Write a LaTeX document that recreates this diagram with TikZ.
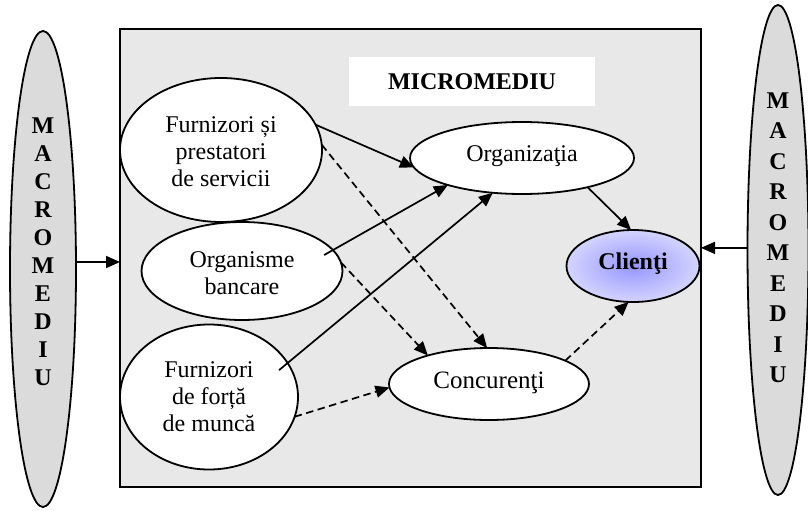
\documentclass[tikz,border=0pt]{standalone}
\usepackage{fontspec}
\setmainfont{Liberation Serif}
\usetikzlibrary{shapes.geometric,arrows.meta,calc}
\begin{document}
\begin{tikzpicture}[x=1pt,y=-1pt,
  every node/.style={outer sep=0pt,inner sep=0pt},
  txt/.style={font=\fontsize{24}{27}\selectfont,align=center},
  oval/.style={ellipse,draw=black,line width=1.8pt,fill=white},
  macro/.style={ellipse,draw=black,line width=1.8pt,fill=gray!28},
  macroL/.style={font=\bfseries\fontsize{24}{28}\selectfont,align=center},
  macroR/.style={font=\bfseries\fontsize{24}{30.5}\selectfont,align=center},
  arr/.style={line width=1.7pt,-{Triangle[length=14pt,width=12pt]}},
  darr/.style={arr,dash pattern=on 7.5pt off 4.5pt}]
\useasboundingbox (0,0) rectangle (808,511);
% main box
\node[draw=black,line width=1.8pt,fill=gray!18,minimum width=581pt,minimum height=458pt] (box) at (410.5,258) {};
\node[fill=white,minimum width=246pt,minimum height=49pt,font=\bfseries\fontsize{24}{25}\selectfont] (micro) at (472,81.5) {MICROMEDIU};
% macro ellipses
\node[macro,minimum width=66pt,minimum height=476pt] (macL) at (43,269) {};
\node[macroL] (macLt) at (43,252) {M\\A\\C\\R\\O\\M\\E\\D\\I\\U};
\node[macro,minimum width=61pt,minimum height=490pt] (macR) at (778,250) {};
\node[macroR] (macRt) at (778,237.5) {M\\A\\C\\R\\O\\M\\E\\D\\I\\U};
% inner ellipses
\node[oval,minimum width=202pt,minimum height=144pt] (f1) at (221,150) {};
\node[txt] (f1t) at (221,152) {Furnizori și\\prestatori\\de servicii};
\node[oval,minimum width=201pt,minimum height=98pt] (ob) at (242,271) {};
\node[txt] (obt) at (242,273) {Organisme\\bancare};
\node[oval,minimum width=178pt,minimum height=145pt] (ff) at (209,397) {};
\node[txt] (fft) at (209,397) {Furnizori\\de forță\\de muncă};
\node[oval,minimum width=224pt,minimum height=72pt] (org) at (522,158) {};
\node[font=\fontsize{24}{26}\selectfont] (orgt) at (522,156) {Organizaţia};
\node[ellipse,draw=black,line width=1.8pt,shading=radial,inner color={rgb,255:red,150;green,150;blue,255},outer color={rgb,255:red,212;green,212;blue,255},minimum width=133pt,minimum height=72pt] (cl) at (633,266) {};
\node[font=\bfseries\fontsize{24}{25}\selectfont] (clt) at (633,264) {Clienţi};
\node[oval,minimum width=200pt,minimum height=72pt] (conc) at (489,384) {};
\node[font=\fontsize{25}{27}\selectfont] (conct) at (489,383) {Concurenţi};
% connectors
\draw[arr] (f1.15) -- (org.185);
\draw[darr] (f1.3) -- (conc.93);
\draw[arr] ($(ob.center)!0.88!(ob.11)$) -- (org.200);
\draw[darr] (ob.5) -- (conc.155);
\draw[arr] ($(ff.center)!0.87!(ff.21)$) -- (org.230);
\draw[darr] (ff.347) -- (conc.182);
\draw[arr] (org.336) -- (cl.93);
\draw[darr] (conc.17) -- (cl.263);
\draw[arr] (macL.12) -- (macL.12 -| box.west);
\draw[arr] (macR.176) -- (macR.176 -| box.east);
\end{tikzpicture}
\end{document}
